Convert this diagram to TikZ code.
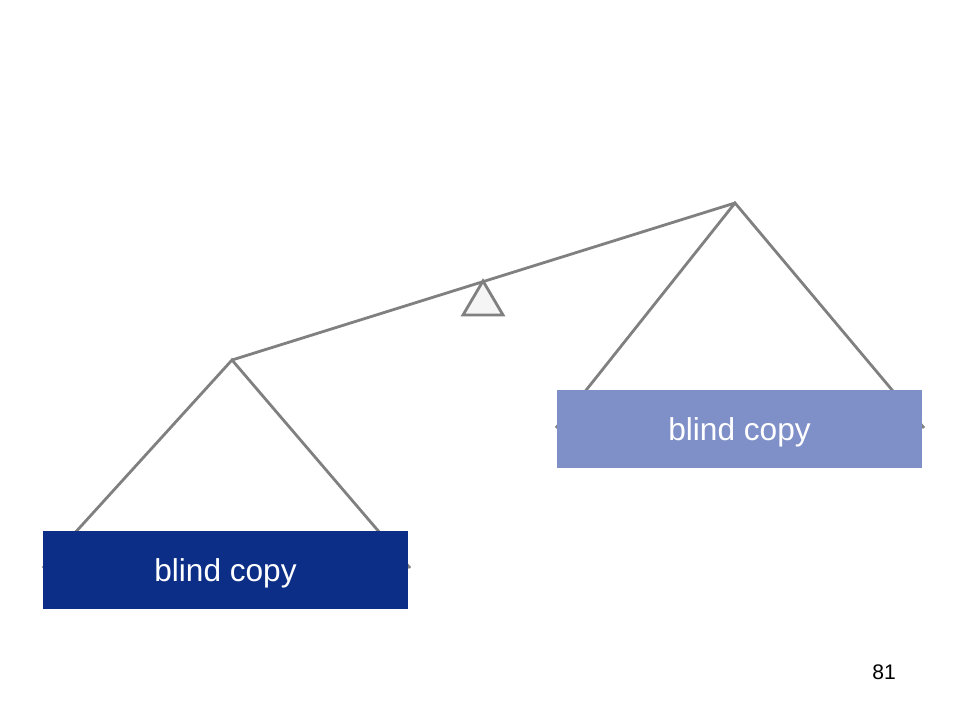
\documentclass[tikz,border=0pt]{standalone}
\usepackage{fontspec}
\setmainfont{Liberation Sans}
\usepackage{tikz}
\usetikzlibrary{calc}
\definecolor{heavypan}{RGB}{13,46,135}
\definecolor{lightpan}{RGB}{127,143,200}
\definecolor{beamgray}{RGB}{128,128,128}
\definecolor{pivotfill}{RGB}{245,245,245}

\begin{document}
\begin{tikzpicture}[x=0.02cm,y=-0.02cm]
		\useasboundingbox (0,0) rectangle (960,720);
		% beam, pivot and pan strings
		\coordinate (bl) at (232,360);
		\coordinate (br) at (735,203);
		\coordinate (pl1) at (43,568);
		\coordinate (pl2) at (410,568);
		\coordinate (pr1) at (556,428);
		\coordinate (pr2) at (924,428);
		\coordinate (f1) at (483,281);
		\coordinate (f2) at (463,315);
		\coordinate (f3) at (503,315);
		
		\draw[beamgray, line width=1.6pt, fill=pivotfill] (f1) -- (f2) -- (f3) -- cycle;
		\draw[-, beamgray, line width=1.6pt] (bl) -- (br);
		\draw[-, beamgray, line width=1.6pt] (pl1) -- (bl) -- (pl2);
		\draw[-, beamgray, line width=1.6pt] (pr1) -- (br) -- (pr2);
		
		\begin{scope}[every node/.style={minimum width=7.3cm,minimum height=1.56cm,inner sep=0,text depth=0pt,text=white,font=\fontsize{18}{22}\selectfont}]
		\node[fill=heavypan] (n1) at (225.5,570) {blind copy};
		\node[fill=lightpan] (n2) at (739.5,429) {blind copy};
		\end{scope}
		
		\node[font=\fontsize{12}{14}\selectfont] (pg) at (884,672) {81};
		
		\end{tikzpicture}
\end{document}
